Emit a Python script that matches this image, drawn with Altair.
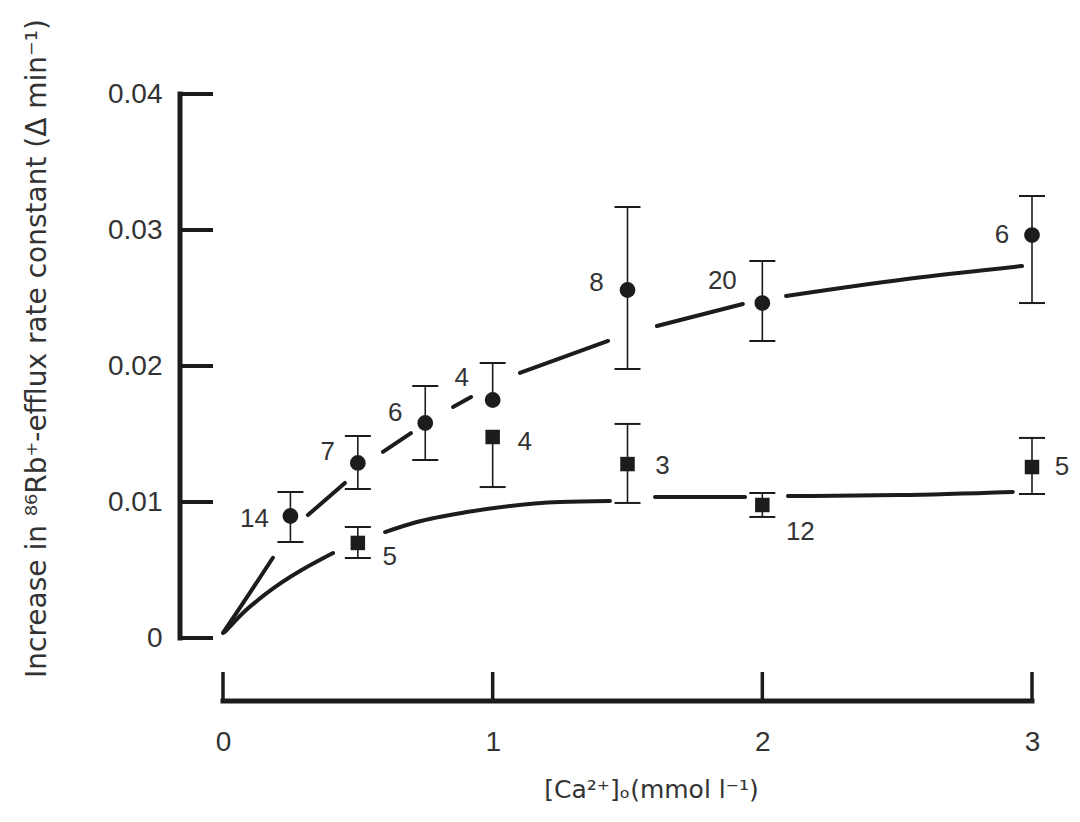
import altair as alt
import pandas as pd

# ---------------- data ----------------
# [Ca2+]o concentrations (mmol/l)
circ_x = [0.25, 0.5, 0.75, 1.0, 1.5, 2.0, 3.0]
circ_y = [0.00897, 0.01287, 0.01581, 0.01750, 0.02559, 0.02463, 0.02963]
circ_lo = [0.00706, 0.01096, 0.01309, None, 0.01978, 0.02184, 0.02463]
circ_hi = [0.01074, 0.01485, 0.01853, 0.02022, 0.03169, 0.02772, 0.03250]
circ_n = ["14", "7", "6", "4", "8", "20", "6"]

sq_x = [0.5, 1.0, 1.5, 2.0, 3.0]
sq_y = [0.00699, 0.01478, 0.01279, 0.00978, 0.01257]
sq_lo = [0.00588, 0.01110, 0.00993, 0.00890, 0.01059]
sq_hi = [0.00816, None, 0.01574, 0.01066, 0.01471]
sq_n = ["5", "4", "3", "12", "5"]

# fitted curves (drawn broken around the symbols), segment id per point
upper_x = [0.0, 0.089, 0.185, 0.315, 0.452, 0.593, 0.697, 0.853, 0.920,
           1.101, 1.428, 1.609, 1.928, 2.088, 2.536, 2.963]
upper_y = [0.00037, 0.00300, 0.00590, 0.00904, 0.01140, 0.01368, 0.01507,
           0.01699, 0.01772, 0.01949, 0.02184, 0.02294, 0.02456, 0.02515,
           0.02640, 0.02735]
upper_seg = ["a", "a", "a", "b", "b", "c", "c", "d", "d", "e", "e", "f", "f",
             "g", "g", "g"]

lower_x = [0.007, 0.074, 0.163, 0.408, 0.601, 0.719, 0.905, 1.250, 1.435,
           1.602, 1.936, 2.095, 2.510, 2.929]
lower_y = [0.00044, 0.00184, 0.00331, 0.00625, 0.00779, 0.00853, 0.00926,
           0.01000, 0.01007, 0.01037, 0.01037, 0.01044, 0.01051, 0.01074]
lower_seg = ["A", "A", "A", "A", "B", "B", "B", "B", "B", "C", "C", "D", "D",
             "D"]

x_ticks = [0, 1, 2, 3]
y_ticks = [0, 0.01, 0.02, 0.03, 0.04]

# ---------------- tables ----------------
curve_df = pd.DataFrame({
    "x": upper_x + lower_x,
    "y": upper_y + lower_y,
    "seg": upper_seg + lower_seg,
})

err_rows = []
cap_rows = []
for xs, ys, los, his in [(circ_x, circ_y, circ_lo, circ_hi),
                         (sq_x, sq_y, sq_lo, sq_hi)]:
    for xv, yv, lo, hi in zip(xs, ys, los, his):
        err_rows.append({"x": xv,
                         "y": lo if lo is not None else yv,
                         "y2": hi if hi is not None else yv})
        if lo is not None:
            cap_rows.append({"x": xv, "y": lo})
        if hi is not None:
            cap_rows.append({"x": xv, "y": hi})
err_df = pd.DataFrame(err_rows)
cap_df = pd.DataFrame(cap_rows)

circ_df = pd.DataFrame({"x": circ_x, "y": circ_y, "n": circ_n})
sq_df = pd.DataFrame({"x": sq_x, "y": sq_y, "n": sq_n})

INK = "#1c1c1c"
TXT = "#333333"
FONT = "Liberation Sans"
TFONT = "DejaVu Sans"

x_axis = alt.Axis(
    values=x_ticks, domain=False, ticks=False, tickSize=0, grid=False,
    labelFlush=False,
    labelPadding=90, labelFontSize=28, labelFont=FONT, labelColor=TXT,
    format="d", title="[Ca²⁺]ₒ(mmol l⁻¹)", titleFont=TFONT, titleFontSize=25,
    titleFontWeight="normal", titleColor=TXT, titleX=428, titleY=159,
    titleBaseline="alphabetic", titleAlign="center",
)
y_axis = alt.Axis(
    values=y_ticks, domain=False, ticks=False, tickSize=0, grid=False,
    labelFlush=False,
    labelPadding=61, labelFontSize=28, labelFont=FONT, labelColor=TXT,
    labelExpr="datum.value == 0 ? '0' : format(datum.value, '.2f')",
    title="Increase in ⁸⁶Rb⁺-efflux rate constant (Δ min⁻¹)",
    titleFont=TFONT, titleFontSize=28, titleFontWeight="normal",
    titleColor=TXT, titleX=-172, titleY=254, titleAngle=270,
    titleBaseline="bottom", titleAlign="center",
)

X = alt.X("x:Q", scale=alt.Scale(domain=[0, 3], nice=False, zero=False),
          axis=x_axis)
Y = alt.Y("y:Q", scale=alt.Scale(domain=[0, 0.04], nice=False, zero=False),
          axis=y_axis)

# hand-drawn style axes (y axis offset to the left, x axis offset below)
y_line = alt.Chart(pd.DataFrame({"y": [0.0], "y2": [0.04]})).mark_rule(
    strokeWidth=5, color=INK, strokeCap="square").encode(
    x=alt.value(-43), y=Y, y2="y2:Q")
y_tick_marks = alt.Chart(pd.DataFrame({"y": y_ticks})).mark_rule(
    strokeWidth=4, color=INK).encode(
    x=alt.value(-43), x2=alt.value(-10), y=Y)
x_line = alt.Chart(pd.DataFrame({"x": [0.0], "x2": [3.0]})).mark_rule(
    strokeWidth=5, color=INK, strokeCap="square").encode(
    x=X, x2="x2:Q", y=alt.value(607))
x_tick_marks = alt.Chart(pd.DataFrame({"x": x_ticks})).mark_rule(
    strokeWidth=3.5, color=INK).encode(
    x=X, y=alt.value(578), y2=alt.value(608))

curves = alt.Chart(curve_df).mark_line(
    strokeWidth=4, color=INK, strokeCap="round",
    interpolate="monotone").encode(
    x=X, y=Y, detail="seg:N", order="x:Q")

err = alt.Chart(err_df).mark_rule(strokeWidth=1.6, color=INK).encode(
    x=X, y=Y, y2="y2:Q")
caps = alt.Chart(cap_df).mark_tick(
    orient="horizontal", size=26, thickness=2, color=INK, opacity=1).encode(
    x=X, y=Y)

circles = alt.Chart(circ_df).mark_point(
    shape="circle", filled=True, size=250, color=INK, opacity=1).encode(
    x=X, y=Y)
squares = alt.Chart(sq_df).mark_point(
    shape="square", filled=True, size=210, color=INK, opacity=1).encode(
    x=X, y=Y)

# replicate counts next to each symbol (label offsets in px)
circ_off = [(-36, 3), (-30, -11), (-30, -10), (-31, -22), (-31, -7),
            (-40, -22), (-30, 0)]
sq_off = [(32, 14), (32, 5), (35, 2), (38, 27), (30, 0)]

label_layers = []
for df, offs in [(circ_df, circ_off), (sq_df, sq_off)]:
    for i, (dx, dy) in enumerate(offs):
        label_layers.append(
            alt.Chart(df.iloc[[i]]).mark_text(
                dx=dx, dy=dy, fontSize=26, font=FONT, color=TXT,
                align="center", baseline="middle").encode(
                x=X, y=Y, text="n:N"))

chart = alt.layer(
    y_line, y_tick_marks, x_line, x_tick_marks, curves, err, caps,
    circles, squares, *label_layers,
).properties(
    width=809, height=544,
    autosize=alt.AutoSizeParams(type="none"),
    padding={"left": 215, "top": 86, "right": 38, "bottom": 170},
).configure(background="white").configure_view(
    strokeWidth=0, strokeOpacity=0)

chart.save("out.html", embed_options={"renderer": "svg", "actions": False})
